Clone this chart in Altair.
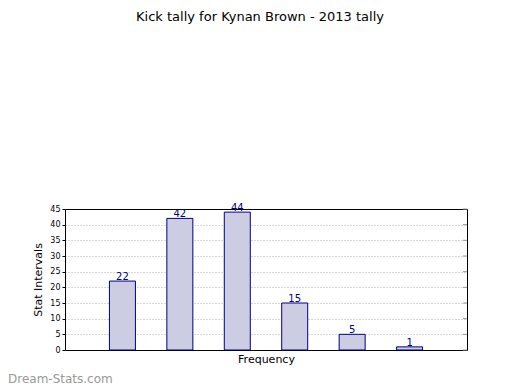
import altair as alt
import pandas as pd

positions = [1, 2, 3, 4, 5, 6]
values = [22, 42, 44, 15, 5, 1]
y_ticks = [0, 5, 10, 15, 20, 25, 30, 35, 40, 45]
title_text = "Kick tally for Kynan Brown - 2013 tally"
watermark = "Dream-Stats.com"

df = pd.DataFrame({"pos": positions, "val": values})
ticks_df = pd.DataFrame({"val": y_ticks})

FONT = "DejaVu Sans"

xscale = alt.Scale(domain=[0, 7], nice=False, zero=False, padding=0)
yscale = alt.Scale(domain=[0, 45], nice=False)

yaxis = alt.Axis(values=y_ticks, labelFontSize=8, labelFont=FONT,
                 labelColor="black", tickSize=3, tickColor="black",
                 labelOverlap=False, labelFlush=False,
                 domainColor="black", grid=True, gridColor="#b0b0b0",
                 gridOpacity={"condition": {"test": "datum.value === 0 || datum.value === 45",
                                            "value": 0}, "value": 1},
                 gridDash=[1, 2], title="Stat Intervals", titleFontSize=11,
                 titleFont=FONT, titleFontWeight="normal", titleColor="black",
                 titlePadding=6)

x = alt.X("pos:Q", scale=xscale,
          axis=alt.Axis(labels=False, ticks=False, grid=False, domain=False,
                        title="Frequency", titleFontSize=11, titleFontWeight="normal",
                        titleFont=FONT, titlePadding=3, titleColor="black"))
y = alt.Y("val:Q", scale=yscale, axis=yaxis)

bars = alt.Chart(df).mark_bar(size=26, fill="#ccccE3", stroke="#000080",
                              strokeWidth=1).encode(x=x, y=y)
labels = alt.Chart(df).mark_text(baseline="bottom", dy=1, fontSize=10, font=FONT,
                                 color="#000080").encode(x=x, y=y, text="val:Q")
right_ticks = alt.Chart(ticks_df).mark_rule(color="#999999", strokeWidth=1).encode(
    y=y, x=alt.value(398), x2=alt.value(402))
title = alt.Chart(pd.DataFrame({"t": [title_text]})).mark_text(
    fontSize=13, font=FONT, color="black", baseline="middle"
).encode(x=alt.value(195), y=alt.value(-192), text="t:N")
wm = alt.Chart(pd.DataFrame({"t": [watermark]})).mark_text(
    fontSize=12, font=FONT, color="#999999", align="left",
    baseline="middle"
).encode(x=alt.value(-57), y=alt.value(170), text="t:N")

chart = alt.layer(bars, labels, right_ticks, title, wm).properties(
    width=402, height=141,
    autosize=alt.AutoSizeParams(type="none"),
    padding={"left": 57, "top": 201, "right": 45, "bottom": 40},
    background="white",
).configure_view(stroke="black", strokeWidth=1)

chart.save("out.html", embed_options={"renderer": "svg", "actions": False})
